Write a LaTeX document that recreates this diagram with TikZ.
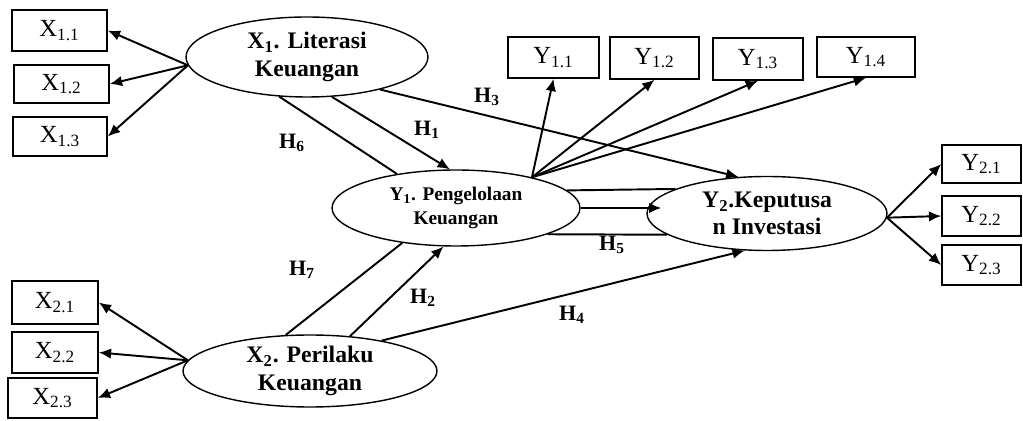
\documentclass[tikz,border=0pt]{standalone}
\usepackage{fontspec}
\setmainfont{Liberation Serif}
\usetikzlibrary{shapes.geometric,arrows.meta}
\begin{document}
\begin{tikzpicture}[x=0.02cm,y=-0.02cm,
 box/.style={draw,line width=0.9pt,rectangle,inner sep=0pt,font=\fontsize{14}{14}\selectfont},
 lat/.style={draw,line width=0.8pt,ellipse,inner sep=0pt,align=center,font=\bfseries\fontsize{13.5}{15.5}\selectfont},
 arr/.style={line width=1.1pt,-{Latex[length=7pt,width=6pt]}},
 ln/.style={line width=1.1pt},
 hl/.style={font=\bfseries\fontsize{12.5}{12.5}\selectfont}]
\useasboundingbox (0,0) rectangle (1023,421);

% latent variables
\node[lat,minimum width=4.84cm,minimum height=1.6cm] (X1) at (307,57) {X\textsubscript{1}. Literasi\\Keuangan};
\node[lat,minimum width=5.08cm,minimum height=1.44cm] (X2) at (310,371) {X\textsubscript{2}. Perilaku\\Keuangan};
\node[lat,minimum width=4.96cm,minimum height=1.52cm,font=\bfseries\fontsize{11}{13.5}\selectfont] (Y1) at (456,208) {Y\textsubscript{1}. Pengelolaan\\Keuangan};
\node[lat,minimum width=4.8cm,minimum height=1.48cm] (Y2) at (767,213.5) {Y\textsubscript{2}.Keputusa\\n Investasi};

% indicators
\node[box,minimum width=1.9cm,minimum height=0.82cm] (X11) at (59.5,30.5) {X\textsubscript{1.1}};
\node[box,minimum width=1.9cm,minimum height=0.76cm] (X12) at (61.5,84) {X\textsubscript{1.2}};
\node[box,minimum width=1.88cm,minimum height=0.78cm] (X13) at (60,136.5) {X\textsubscript{1.3}};
\node[box,minimum width=1.72cm,minimum height=0.86cm] (X21) at (55,302.5) {X\textsubscript{2.1}};
\node[box,minimum width=1.72cm,minimum height=0.82cm] (X22) at (55,352.5) {X\textsubscript{2.2}};
\node[box,minimum width=1.78cm,minimum height=0.8cm] (X23) at (52.5,398) {X\textsubscript{2.3}};
\node[box,minimum width=1.82cm,minimum height=0.82cm] (Y11) at (553.5,57.5) {Y\textsubscript{1.1}};
\node[box,minimum width=1.78cm,minimum height=0.84cm] (Y12) at (654.5,58) {Y\textsubscript{1.2}};
\node[box,minimum width=1.8cm,minimum height=0.84cm] (Y13) at (758,59) {Y\textsubscript{1.3}};
\node[box,minimum width=1.96cm,minimum height=0.8cm] (Y14) at (866,57) {Y\textsubscript{1.4}};
\node[box,minimum width=1.58cm,minimum height=0.76cm] (Y21) at (981.5,164) {Y\textsubscript{2.1}};
\node[box,minimum width=1.58cm,minimum height=0.8cm] (Y22) at (981.5,216) {Y\textsubscript{2.2}};
\node[box,minimum width=1.58cm,minimum height=0.8cm] (Y23) at (981.5,265) {Y\textsubscript{2.3}};

% measurement arrows
\draw[arr] (X1.184) -- (X11.east);
\draw[arr] (X1.184) -- (X12.east);
\draw[arr] (X1.184) -- (X13.east);
\draw[arr] (X2.175) -- (X21.east);
\draw[arr] (X2.175) -- (X22.east);
\draw[arr] (X2.175) -- (X23.east);
\draw[arr] (Y1.22) -- (Y11.south);
\draw[arr] (Y1.22) -- (Y12.south);
\draw[arr] (Y1.22) -- (Y13.south);
\draw[arr] (Y1.22) -- (Y14.south);
\draw[arr] (Y2.358) -- (Y21.west);
\draw[arr] (Y2.358) -- (Y22.west);
\draw[arr] (Y2.358) -- (Y23.west);

% structural paths
\draw[arr] (X1.302.7) -- (Y1.99);
\draw[ln] (X1.235.3) -- (Y1.150);
\draw[arr] (X1.336.3) -- (Y2.128);
\draw[ln] (X2.124) -- (Y1.213.5);
\draw[arr] (X2.41.8) -- (Y1.252);
\draw[arr] (X2.23) -- (Y2.239);
\draw[ln] (Y1.9.7) -- (Y2.165);
\draw[arr,shorten >=-0.3cm] (Y1.east) -- (Y1.east -| Y2.west);
\draw[ln] (Y1.344) -- (Y2.192.4);

% hypothesis labels
\node[hl] (H3) at (487,97) {H\textsubscript{3}};
\node[hl] (H1) at (427,130) {H\textsubscript{1}};
\node[hl] (H6) at (292,143) {H\textsubscript{6}};
\node[hl] (H7) at (302,270) {H\textsubscript{7}};
\node[hl] (H2) at (423,298) {H\textsubscript{2}};
\node[hl] (H4) at (572,315) {H\textsubscript{4}};
\node[hl] (H5) at (612,245) {H\textsubscript{5}};
\end{tikzpicture}
\end{document}
